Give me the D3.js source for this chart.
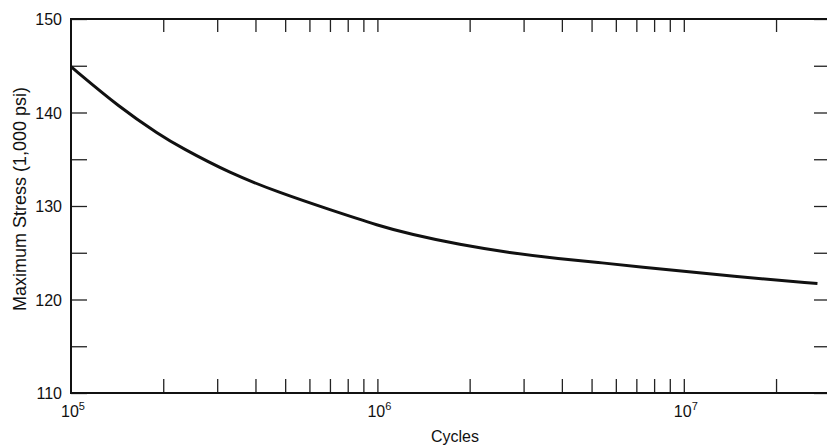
<!DOCTYPE html>
<html>
<head>
<meta charset="utf-8">
<script src="https://cdn.jsdelivr.net/npm/d3@7"></script>
<style>
  body { margin: 0; background: #fff; }
  text { font-family: "Liberation Sans", Arial, sans-serif; fill: #111; }
</style>
</head>
<body>
<div id="chart"></div>
<script>
// values
var cycles = [1e5, 1.445e5, 1.95e5, 2.27e5, 3.3e5, 4.81e5, 7e5, 1.02e6, 1.277e6,
              1.858e6, 2.7e6, 3.94e6, 5.32e6, 6.67e6, 1.52e7, 2.73e7]
var stress = [144.9, 140.5, 137.6, 136.3, 133.5, 131.4, 129.6, 127.85, 127.0,
              125.85, 125.0, 124.35, 123.95, 123.6, 122.4, 121.7]

var xTicks = [2e5, 3e5, 4e5, 5e5, 6e5, 7e5, 8e5, 9e5, 1e6,
              2e6, 3e6, 4e6, 5e6, 6e6, 7e6, 8e6, 9e6, 1e7, 2e7]
var xLabels = [[1e5, "5"], [1e6, "6"], [1e7, "7"]]
var yTicks = [110, 115, 120, 125, 130, 135, 140, 145, 150]
var yLabels = [110, 120, 130, 140, 150]

var width = 827
var height = 445
// plot box (window.top is reserved, hence the names)
var plotL = 71, plotR = 830, plotT = 19, plotB = 393

var svg = d3.select("#chart")
  .append("svg")
    .attr("width", width)
    .attr("height", height)

var x = d3.scaleLog()
  .domain([1e5, 3e7])
  .range([plotL, plotR])

var y = d3.scaleLinear()
  .domain([110, 150])
  .range([plotB, plotT])

// inward ticks on all four sides
svg.append("g")
  .attr("transform", "translate(0," + plotB + ")")
  .call(d3.axisBottom(x).tickValues(xTicks).tickSize(-14).tickFormat(""))
svg.append("g")
  .attr("transform", "translate(0," + plotT + ")")
  .call(d3.axisTop(x).tickValues(xTicks).tickSize(-13).tickFormat(""))
svg.append("g")
  .attr("transform", "translate(" + plotL + ",0)")
  .call(d3.axisLeft(y).tickValues(yTicks).tickSize(-16).tickFormat(""))
svg.append("g")
  .attr("transform", "translate(" + plotR + ",0)")
  .call(d3.axisRight(y).tickValues(yTicks).tickSize(-16).tickFormat(""))

svg.selectAll(".domain").remove()
svg.selectAll(".tick line")
  .attr("stroke", "#222")
  .attr("stroke-width", 1.3)

// frame
svg.append("rect")
  .attr("x", plotL)
  .attr("y", plotT)
  .attr("width", plotR - plotL)
  .attr("height", plotB - plotT)
  .attr("fill", "none")
  .attr("stroke", "#111")
  .attr("stroke-width", 2)

// y tick labels
svg.selectAll("ylab")
  .data(yLabels)
  .enter()
  .append("text")
    .attr("x", plotL - 9)
    .attr("y", function(d) { return y(d) + 6 })
    .attr("text-anchor", "end")
    .style("font-size", "16px")
    .text(function(d) { return d })

// x decade labels 10^n
var xl = svg.selectAll("xlab")
  .data(xLabels)
  .enter()
  .append("text")
    .attr("x", function(d) { return x(d[0]) + 2 })
    .attr("y", plotB + 24)
    .attr("text-anchor", "middle")
    .style("font-size", "16px")
xl.append("tspan").text("10")
xl.append("tspan")
  .attr("dy", -7)
  .style("font-size", "11px")
  .text(function(d) { return d[1] })

svg.append("text")
  .attr("x", 455)
  .attr("y", 442)
  .attr("text-anchor", "middle")
  .style("font-size", "16px")
  .text("Cycles")

svg.append("text")
  .attr("transform", "translate(26,199) rotate(-90)")
  .attr("text-anchor", "middle")
  .style("font-size", "18px")
  .text("Maximum Stress (1,000 psi)")

// S-N curve, B-spline through the read points to smooth reading noise
var pts = cycles.map(function(c, i) { return [c, stress[i]] })
var line = d3.line()
  .x(function(d) { return x(d[0]) })
  .y(function(d) { return y(d[1]) })
  .curve(d3.curveBasis)

svg.append("path")
  .datum(pts)
  .attr("d", line)
  .attr("fill", "none")
  .attr("stroke", "#111")
  .attr("stroke-width", 3)
</script>
</body>
</html>
